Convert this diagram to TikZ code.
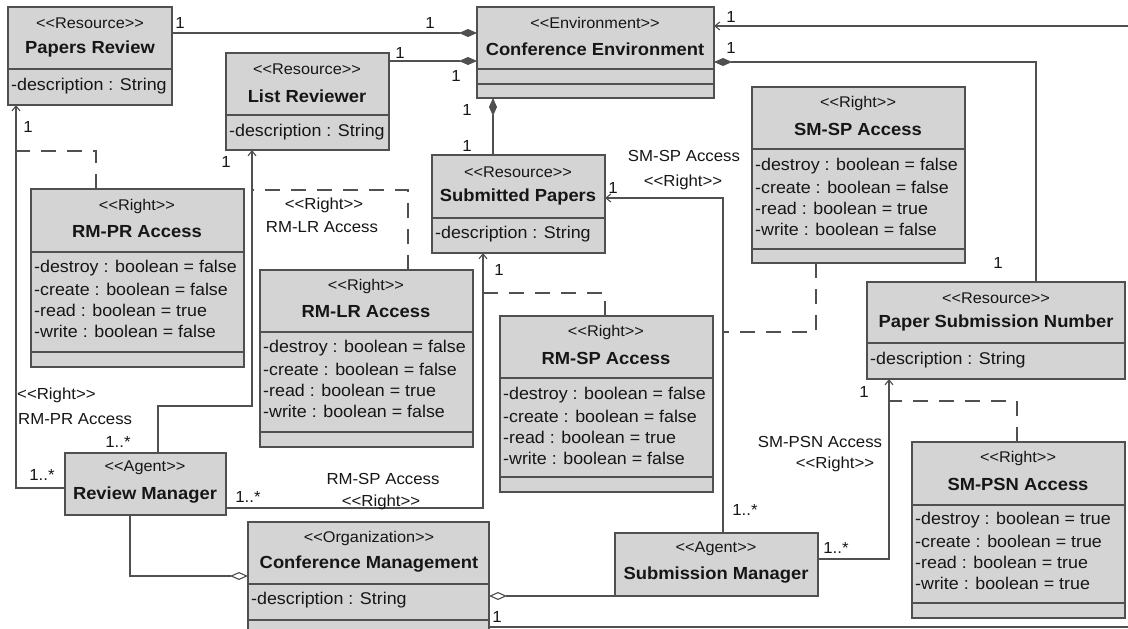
\documentclass[tikz,border=0pt]{standalone}
\usepackage{fontspec}
\setmainfont{Liberation Sans}[FakeStretch=1.05, Ligatures=TeXOff]
\usetikzlibrary{arrows.meta,calc}

\definecolor{boxfill}{RGB}{212,212,212}
\definecolor{edge}{RGB}{80,80,80}
\definecolor{ink}{RGB}{22,22,22}

\tikzset{
  cls/.style={draw=edge, fill=boxfill, line width=1.1pt, inner sep=0pt, outer sep=0pt, anchor=north west},
  sepline/.style={draw=edge, line width=1.1pt},
  stereo/.style={font=\fontsize{15.5}{18}\selectfont, text=ink, inner sep=0pt},
  cname/.style={font=\fontsize{17.5}{20}\selectfont\bfseries, text=ink, inner sep=0pt},
  attr/.style={font=\fontsize{17}{20}\selectfont, text=ink, inner sep=0pt, anchor=west},
  mult/.style={font=\fontsize{16}{19}\selectfont, text=ink, inner sep=0pt},
  role/.style={font=\fontsize{16}{19}\selectfont, text=ink, inner sep=0pt},
  conn/.style={draw=edge, line width=1.1pt},
  nav/.style={conn, -{Straight Barb[length=5pt,width=8pt]}},
  compo/.style={conn, -{Diamond[length=18pt,width=8pt]}},
  aggr/.style={conn, -{Diamond[open,fill=white,length=18pt,width=8pt]}},
  access/.style={conn, dash pattern=on 15pt off 11pt},
}

% class box: name, left, top, width, height
\newcommand\umlbox[5]{\node[cls, minimum width=#4pt, minimum height=#5pt] (#1) at (#2,#3) {};}
% compartment line inside a box, given its distance from the top edge
\newcommand\compline[2]{\draw[sepline] ($(#1.north west)+(0,#2)$) -- ($(#1.north east)+(0,#2)$);}
\newcommand\rights[6]{% attribute rows of an access right box: left x, first y, values
  \node[attr] at (#1,#2) {-destroy : boolean = #3};
  \node[attr] at (#1,#2+21) {-create : boolean = #4};
  \node[attr] at (#1,#2+42) {-read : boolean = #5};
  \node[attr] at (#1,#2+63) {-write : boolean = #6};}

\begin{document}
\begin{tikzpicture}[x=1pt, y=-1pt]
\useasboundingbox (0,0) rectangle (1128,629);
\clip (0,0) rectangle (1128,629);
\fill[white] (0,0) rectangle (1128,629);

% ---------------- class boxes ----------------
\umlbox{pr}{8}{7}{164}{98}
\compline{pr}{62}
\node[stereo] at (90,23) {<<Resource>>};
\node[cname] at (90,49) {Papers Review};
\node[attr] at (11,86) {-description : String};

\umlbox{lr}{226}{53}{163}{97}
\compline{lr}{62}
\node[stereo] at (307,69) {<<Resource>>};
\node[cname] at (307,96) {List Reviewer};
\node[attr] at (229,132) {-description : String};

\umlbox{ce}{477}{7}{237}{91}
\compline{ce}{62}
\compline{ce}{77}
\node[stereo] at (595,23) {<<Environment>>};
\node[cname] at (595,49) {Conference Environment};

\umlbox{sp}{432}{155}{173}{98}
\compline{sp}{63}
\node[stereo] at (518,172) {<<Resource>>};
\node[cname] at (518,197) {Submitted Papers};
\node[attr] at (435,234) {-description : String};

\umlbox{smsp}{752}{87}{213}{176}
\compline{smsp}{62}
\compline{smsp}{162}
\node[stereo] at (858,103) {<<Right>>};
\node[cname] at (858,129) {SM-SP Access};
\rights{755}{166}{false}{false}{true}{false}

\umlbox{psn}{867}{282}{258}{97}
\compline{psn}{61}
\node[stereo] at (996,298) {<<Resource>>};
\node[cname] at (996,323) {Paper Submission Number};
\node[attr] at (870,360) {-description : String};

\umlbox{smpsn}{912}{442}{213}{176}
\compline{smpsn}{63}
\compline{smpsn}{161}
\node[stereo] at (1018,458) {<<Right>>};
\node[cname] at (1018,484) {SM-PSN Access};
\rights{915}{520}{true}{true}{true}{true}

\umlbox{rmpr}{31}{189}{213}{178}
\compline{rmpr}{63}
\compline{rmpr}{163}
\node[stereo] at (137,206) {<<Right>>};
\node[cname] at (137,232) {RM-PR Access};
\rights{34}{268}{false}{false}{true}{false}

\umlbox{rmlr}{260}{270}{213}{177}
\compline{rmlr}{62}
\compline{rmlr}{162}
\node[stereo] at (366,286) {<<Right>>};
\node[cname] at (366,312) {RM-LR Access};
\rights{263}{348}{false}{false}{true}{false}

\umlbox{rmsp}{500}{316}{213}{176}
\compline{rmsp}{62}
\compline{rmsp}{161}
\node[stereo] at (606,332) {<<Right>>};
\node[cname] at (606,358) {RM-SP Access};
\rights{503}{395}{false}{false}{true}{false}

\umlbox{rm}{65}{453}{161}{62}
\node[stereo] at (145,468) {<<Agent>>};
\node[cname] at (145,495) {Review Manager};

\umlbox{sm}{615}{533}{203}{63}
\node[stereo] at (716,549) {<<Agent>>};
\node[cname] at (716,575) {Submission Manager};

\umlbox{cm}{248}{522}{241}{130}
\compline{cm}{62}
\compline{cm}{98}
\node[stereo] at (369,538) {<<Organization>>};
\node[cname] at (369,564) {Conference Management};
\node[attr] at (251,600) {-description : String};

% ---------------- bend points and free ends ----------------
\coordinate (yPR) at (0,33);
\coordinate (yLR) at (0,61);
\coordinate (xSP) at (493,0);
\coordinate (bPSN) at (1036,62);
\coordinate (edgeTop) at (1128,26);
\coordinate (edgeBot) at (1128,627);
\coordinate (bRMPR) at (16,488);
\coordinate (bRMLRa) at (158,406);
\coordinate (bRMLRb) at (252,406);
\coordinate (bRMSP) at (483,508);
\coordinate (bSMSP) at (723,198);
\coordinate (bSMPSN) at (889,559);
\coordinate (bRMCM) at (130,576);

% ---------------- composition with the environment ----------------
\draw[compo] (pr.east |- yPR) -- (ce.west |- yPR);
\draw[compo] (lr.east |- yLR) -- (ce.west |- yLR);
\draw[compo] (sp.north -| xSP) -- (ce.south -| xSP);
\draw[compo] (psn.north -| bPSN) -- (bPSN) -- (ce.east |- bPSN);
\draw[nav] (edgeTop) -- (ce.east |- edgeTop);
\draw[conn] (cm.east |- edgeBot) -- (edgeBot);

% ---------------- agent navigations ----------------
\draw[nav] (rm.west |- bRMPR) -- (bRMPR) -- (pr.south -| bRMPR);
\draw[nav] (rm.north -| bRMLRa) -- (bRMLRa) -- (bRMLRb) -- (lr.south -| bRMLRb);
\draw[nav] (rm.east |- bRMSP) -- (bRMSP) -- (sp.south -| bRMSP);
\draw[nav] (sm.north -| bSMSP) -- (bSMSP) -- (sp.east |- bSMSP);
\draw[nav] (sm.east |- bSMPSN) -- (bSMPSN) -- (psn.south -| bSMPSN);

% ---------------- aggregation into the organization ----------------
\draw[aggr] (rm.south -| bRMCM) -- (bRMCM) -- (cm.west |- bRMCM);
\draw[aggr] (sm.south west) -- (cm.east |- sm.south west);

% ---------------- access right attachments ----------------
\draw[access] (rmpr.north -| 96,0) -- (96,151) -- (bRMPR |- 0,151);
\draw[access] (rmlr.north -| 408,0) -- (408,190) -- (bRMLRb |- 0,190);
\draw[access] (rmsp.north -| 605,0) -- (605,293) -- (bRMSP |- 0,293);
\draw[access] (smsp.south -| 816,0) -- (816,332) -- (bSMSP |- 0,332);
\draw[access] (smpsn.north -| 1017,0) -- (1017,401) -- (bSMPSN |- 0,401);

% ---------------- multiplicities ----------------
\node[mult] at (180,23) {1};
\node[mult] at (430,23) {1};
\node[mult] at (400,53) {1};
\node[mult] at (456,76) {1};
\node[mult] at (467,110) {1};
\node[mult] at (467,146) {1};
\node[mult] at (731,17) {1};
\node[mult] at (731,48) {1};
\node[mult] at (998,263) {1};
\node[mult] at (28,127) {1};
\node[mult] at (42,475) {1..*};
\node[mult] at (226,162) {1};
\node[mult] at (118,442) {1..*};
\node[mult] at (248,497) {1..*};
\node[mult] at (499,270) {1};
\node[mult] at (613,188) {1};
\node[mult] at (745,510) {1..*};
\node[mult] at (836,548) {1..*};
\node[mult] at (864,392) {1};
\node[mult] at (497,617) {1};

% ---------------- association role names ----------------
\node[role, anchor=west] at (17,395) {<<Right>>};
\node[role, anchor=west] at (18,419) {RM-PR Access};
\node[role] at (324,205) {<<Right>>};
\node[role] at (322,227) {RM-LR Access};
\node[role] at (383,479) {RM-SP Access};
\node[role] at (381,502) {<<Right>>};
\node[role] at (684,156) {SM-SP Access};
\node[role] at (683,182) {<<Right>>};
\node[role] at (820,442) {SM-PSN Access};
\node[role] at (835,464) {<<Right>>};
\end{tikzpicture}
\end{document}
